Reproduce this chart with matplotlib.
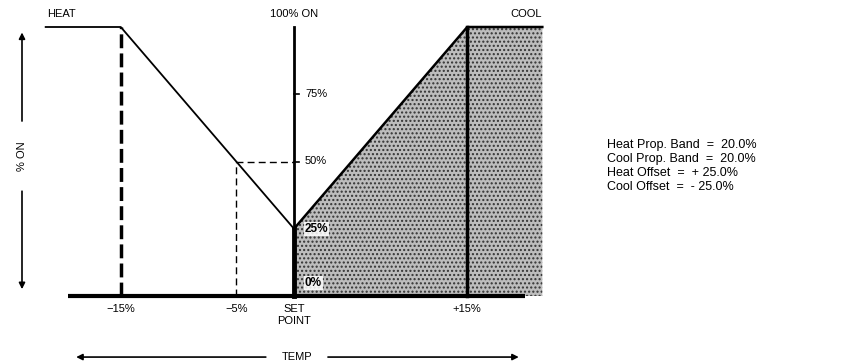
import matplotlib
matplotlib.use("Agg")
import matplotlib.pyplot as plt

# Control curves: temperature offset from set point (%) vs. output (% ON)
heat_temp = [-21.5, -15, 0]
heat_on = [100, 100, 25]
cool_temp = [0, 15, 21.5]
cool_on = [25, 100, 100]

x_tick_pos = [-15, -5, 0, 15]
x_tick_labels = ["\u221215%", "\u22125%", "SET\nPOINT", "+15%"]
y_tick_pos = [75, 50]
y_tick_labels = ["75%", "50%"]

settings = [
    "Heat Prop. Band  =  20.0%",
    "Cool Prop. Band  =  20.0%",
    "Heat Offset  =  + 25.0%",
    "Cool Offset  =  - 25.0%",
]

plt.rcParams["font.family"] = ["Liberation Sans", "DejaVu Sans"]

W, H, DPI = 846, 364, 100
fig = plt.figure(figsize=(W / DPI, H / DPI), dpi=DPI)
ax = fig.add_axes([0, 0, 1, 1])

# pixel mapping: set point at x=294 px, 11.55 px per % ; 0% ON at y=296 px, 2.69 px per %
x0_px, xs = 294, 11.55
y0_px, ys = 296, 2.69
ax.set_xlim(-x0_px / xs, (W - x0_px) / xs)
ax.set_ylim(-(H - y0_px) / ys, y0_px / ys)
ax.axis("off")

k = "black"

# shaded cooling region
ax.fill_between(cool_temp, 0, cool_on, facecolor="#bdbdbd", edgecolor="#333333",
                hatch="....", linewidth=0, zorder=1)

# baseline
ax.plot([-19.6, 20.0], [0, 0], color=k, lw=3, solid_capstyle="butt", zorder=4)

# set point axis
ax.plot([0, 0], [0, 100], color=k, lw=2, zorder=4)
ax.plot([0, 0], [0, 25], color=k, lw=3.5, zorder=4)
for yv in y_tick_pos:
    ax.plot([0, 0.45], [yv, yv], color=k, lw=1.2, zorder=4)

# heat and cool curves
ax.plot(heat_temp, heat_on, color=k, lw=1.3, zorder=5)
ax.plot(cool_temp, cool_on, color=k, lw=1.8, zorder=5)

# guide lines
ax.plot([-15, -15], [0, 100], color=k, lw=2.5, ls=(0, (4, 1.5)), zorder=3)
ax.plot([-5, -5], [0, 50], color=k, lw=1, ls=(0, (5, 3)), zorder=3)
ax.plot([-5, 0], [50, 50], color=k, lw=1, ls=(0, (5, 3)), zorder=3)
ax.plot([15, 15], [0, 100], color=k, lw=2.5, zorder=3)

# percent labels along set point axis
for yv, lab in zip(y_tick_pos, y_tick_labels):
    ax.text(0.95, yv, lab, fontsize=8, va="center", ha="left", zorder=6)
box = dict(facecolor="white", edgecolor="none", pad=0.6, alpha=0.85)
ax.text(0.95, 25, "25%", fontsize=8.5, fontweight="bold", va="center", ha="left",
        zorder=6, bbox=box)
ax.text(0.95, 4.8, "0%", fontsize=8.5, fontweight="bold", va="center", ha="left",
        zorder=6, bbox=box)

# top labels
ax.text(-20.1, 104.8, "HEAT", fontsize=8, ha="center", va="center")
ax.text(0, 104.8, "100% ON", fontsize=8, ha="center", va="center")
ax.text(20.1, 104.8, "COOL", fontsize=8, ha="center", va="center")

# temperature tick labels
for xv, lab in zip(x_tick_pos, x_tick_labels):
    ax.text(xv, -2.9, lab, fontsize=8, ha="center", va="top", linespacing=1.3)

# %ON arrow
xa = -23.55
ax.annotate("", xy=(xa, 99), xytext=(xa, 64),
            arrowprops=dict(arrowstyle="-|>", color=k, lw=1.2, mutation_scale=9))
ax.annotate("", xy=(xa, 1.5), xytext=(xa, 40),
            arrowprops=dict(arrowstyle="-|>", color=k, lw=1.2, mutation_scale=9))
ax.text(xa, 52, "% ON", rotation=90, fontsize=8, ha="center", va="center")

# TEMP arrow
yt = -22.7
ax.annotate("", xy=(-19.1, yt), xytext=(-2.2, yt),
            arrowprops=dict(arrowstyle="-|>", color=k, lw=1.2, mutation_scale=9))
ax.annotate("", xy=(19.7, yt), xytext=(2.7, yt),
            arrowprops=dict(arrowstyle="-|>", color=k, lw=1.2, mutation_scale=9))
ax.text(0.25, yt, "TEMP", fontsize=8, ha="center", va="center")

# controller settings
for i, s in enumerate(settings):
    ax.text(27.1, 56.1 - i * 5.2, s, fontsize=9, ha="left", va="center")

fig.savefig("out.png", dpi=DPI, facecolor="white")
